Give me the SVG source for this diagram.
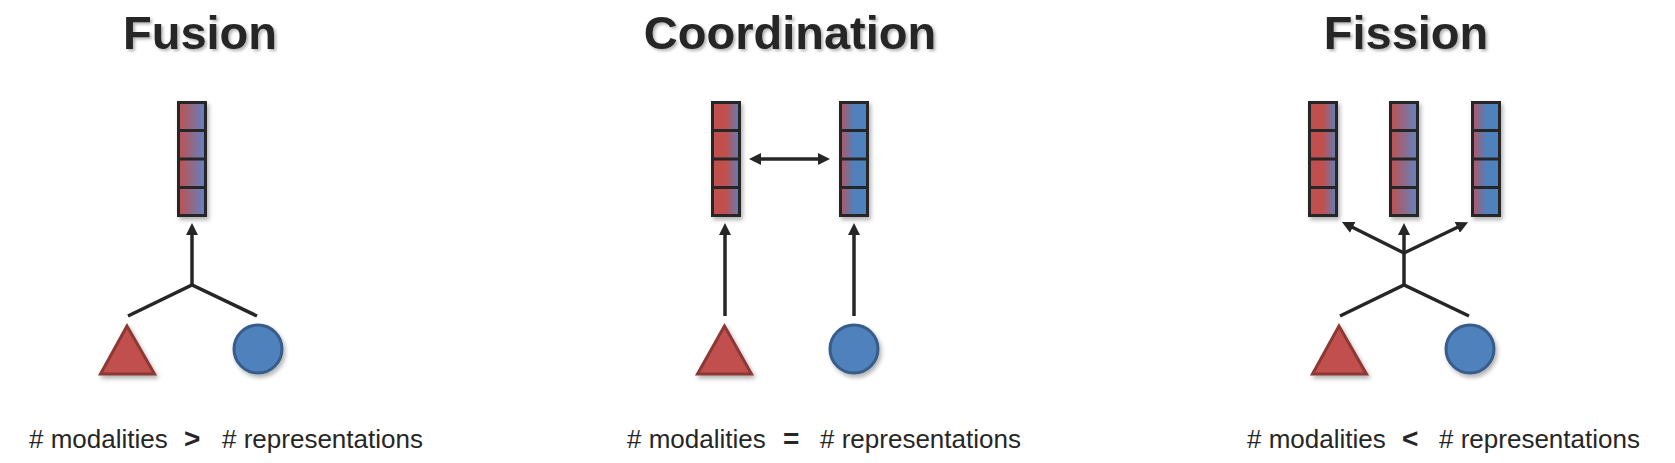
<svg xmlns="http://www.w3.org/2000/svg" width="1675" height="463" viewBox="0 0 1675 463">
<style>
.title{font-family:"Liberation Sans",Arial,sans-serif;font-weight:bold;font-size:47px;fill:#262626;text-anchor:middle}
.lbl{font-family:"Liberation Sans",Arial,sans-serif;font-size:26px;fill:#262626}
.op{font-weight:bold;font-size:28px}
.bar{stroke:#262626;stroke-width:3}
.div{stroke:#262626;stroke-width:3}
.tri{fill:#C0504D;stroke:#8C3836;stroke-width:3;stroke-linejoin:miter}
.circ{fill:#4F81BD;stroke:#385D8A;stroke-width:3}
.ln{fill:none;stroke:#262626;stroke-width:3.5}
</style>
<defs>
<filter id="sh" x="-30%" y="-30%" width="160%" height="160%">
<feDropShadow dx="2" dy="3" stdDeviation="2" flood-color="#000" flood-opacity="0.3"/>
</filter>
<filter id="tsh" x="-10%" y="-30%" width="120%" height="160%">
<feDropShadow dx="2" dy="2" stdDeviation="1.5" flood-color="#000" flood-opacity="0.3"/>
</filter>
<linearGradient id="gMid" x1="0" y1="0" x2="1" y2="0">
<stop offset="0" stop-color="#C0504D"/><stop offset="1" stop-color="#5F84C4"/>
</linearGradient>
<linearGradient id="gRed" x1="0" y1="0" x2="1" y2="0">
<stop offset="0" stop-color="#C0504D"/><stop offset="0.5" stop-color="#C0504D"/><stop offset="1" stop-color="#5A80BE"/>
</linearGradient>
<linearGradient id="gBlue" x1="0" y1="0" x2="1" y2="0">
<stop offset="0" stop-color="#B85560"/><stop offset="0.5" stop-color="#4F81BD"/><stop offset="1" stop-color="#4F81BD"/>
</linearGradient>
<marker id="ah" viewBox="0 0 12 12" refX="2" refY="6" markerWidth="12" markerHeight="12" markerUnits="userSpaceOnUse" orient="auto-start-reverse">
<path d="M0,0 L12,6 L0,12 z" fill="#262626"/>
</marker>
<g id="barShape">
<line class="div" x1="0" y1="28.5" x2="27" y2="28.5"/>
<line class="div" x1="0" y1="57" x2="27" y2="57"/>
<line class="div" x1="0" y1="85.5" x2="27" y2="85.5"/>
</g>
</defs>
<rect width="1675" height="463" fill="#ffffff"/>

<!-- Titles -->
<g id="title-fusion"><text class="title" x="200" y="49" filter="url(#tsh)">Fusion</text></g>
<g id="title-coordination"><text class="title" x="790" y="49" filter="url(#tsh)">Coordination</text></g>
<g id="title-fission"><text class="title" x="1406" y="49" filter="url(#tsh)">Fission</text></g>

<!-- Fusion -->
<g id="fusion-bar" filter="url(#sh)">
<rect class="bar" x="178.5" y="102.5" width="27" height="113" fill="url(#gMid)"/>
<use href="#barShape" x="178.5" y="102"/>
</g>
<g id="fusion-triangle"><polygon class="tri" points="127,326 100.5,374 154.5,374" filter="url(#sh)"/></g>
<g id="fusion-circle"><circle class="circ" cx="258" cy="349" r="24" filter="url(#sh)"/></g>

<!-- Coordination -->
<g id="coord-bar-left" filter="url(#sh)">
<rect class="bar" x="712.5" y="102.5" width="27" height="113" fill="url(#gRed)"/>
<use href="#barShape" x="712.5" y="102"/>
</g>
<g id="coord-bar-right" filter="url(#sh)">
<rect class="bar" x="840.5" y="102.5" width="27" height="113" fill="url(#gBlue)"/>
<use href="#barShape" x="840.5" y="102"/>
</g>
<g id="coord-triangle"><polygon class="tri" points="724.5,326 697.5,374 751.5,374" filter="url(#sh)"/></g>
<g id="coord-circle"><circle class="circ" cx="854" cy="349" r="24" filter="url(#sh)"/></g>

<!-- Fission -->
<g id="fission-bar-left" filter="url(#sh)">
<rect class="bar" x="1309.5" y="102.5" width="27" height="113" fill="url(#gRed)"/>
<use href="#barShape" x="1309.5" y="102"/>
</g>
<g id="fission-bar-middle" filter="url(#sh)">
<rect class="bar" x="1390.5" y="102.5" width="27" height="113" fill="url(#gMid)"/>
<use href="#barShape" x="1390.5" y="102"/>
</g>
<g id="fission-bar-right" filter="url(#sh)">
<rect class="bar" x="1472.5" y="102.5" width="27" height="113" fill="url(#gBlue)"/>
<use href="#barShape" x="1472.5" y="102"/>
</g>
<g id="fission-triangle"><polygon class="tri" points="1339,326 1312.5,374 1366.5,374" filter="url(#sh)"/></g>
<g id="fission-circle"><circle class="circ" cx="1470" cy="349" r="24" filter="url(#sh)"/></g>

<!-- Connectors -->
<g id="connectors">
<polyline class="ln" points="128,316 192,285 257,316"/>
<line class="ln" x1="192" y1="285" x2="192" y2="233" marker-end="url(#ah)"/>

<line class="ln" x1="759" y1="159" x2="820" y2="159" marker-start="url(#ah)" marker-end="url(#ah)"/>
<line class="ln" x1="725" y1="316" x2="725" y2="233" marker-end="url(#ah)"/>
<line class="ln" x1="854" y1="316" x2="854" y2="233" marker-end="url(#ah)"/>

<polyline class="ln" points="1340,316 1404,285 1469,316"/>
<line class="ln" x1="1404" y1="285" x2="1404" y2="233" marker-end="url(#ah)"/>
<line class="ln" x1="1404" y1="253" x2="1350.9" y2="226.5" marker-end="url(#ah)"/>
<line class="ln" x1="1404" y1="253" x2="1459.1" y2="226.5" marker-end="url(#ah)"/>
</g>

<!-- Labels -->
<g id="label-fusion">
<text class="lbl" y="448"><tspan x="29"># modalities</tspan><tspan class="op" x="184">&gt;</tspan><tspan x="222"># representations</tspan></text>
</g>
<g id="label-coordination">
<text class="lbl" y="448"><tspan x="627"># modalities</tspan><tspan class="op" x="783">=</tspan><tspan x="820"># representations</tspan></text>
</g>
<g id="label-fission">
<text class="lbl" y="448"><tspan x="1247"># modalities</tspan><tspan class="op" x="1402">&lt;</tspan><tspan x="1439"># representations</tspan></text>
</g>
</svg>
